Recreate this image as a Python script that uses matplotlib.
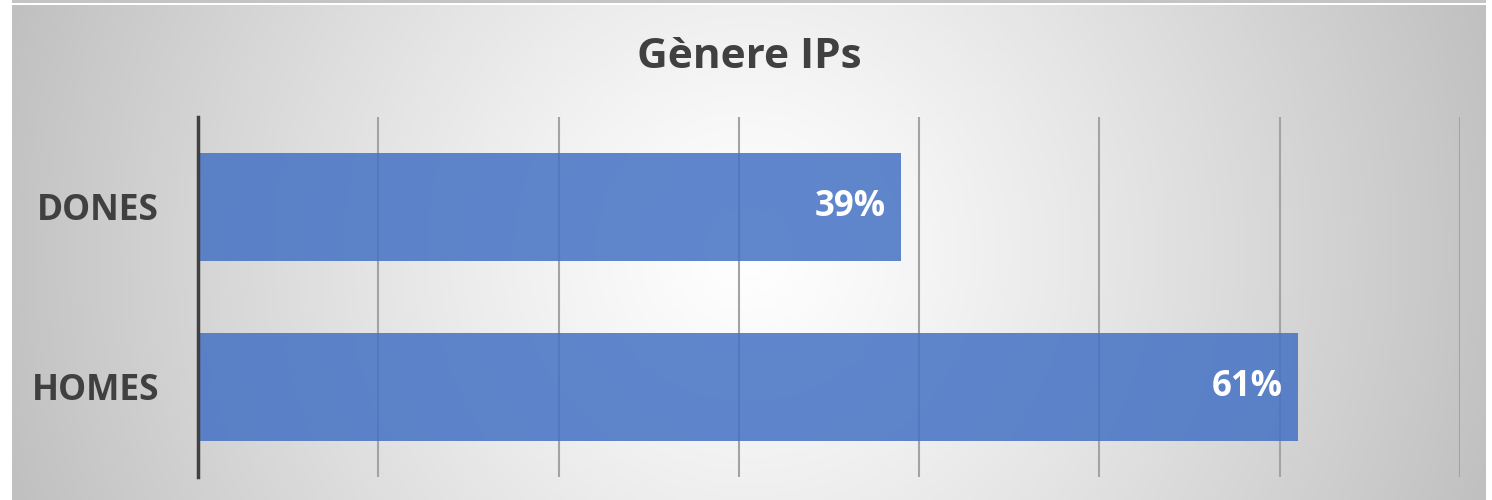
import numpy as np
import matplotlib
matplotlib.use("Agg")
import matplotlib.pyplot as plt
from matplotlib.patches import Rectangle

categories = ["HOMES", "DONES"]
values = [0.61, 0.39]
labels = ["61%", "39%"]
title = "Gènere IPs"

W, H = 1492, 500
fig = plt.figure(figsize=(W / 100, H / 100), dpi=100)
fig.patch.set_facecolor("white")

# background radial gradient
x0, x1, y0, y1 = 12, 1486, 0, 495
bg = fig.add_axes([x0 / W, y0 / H, (x1 - x0) / W, (y1 - y0) / H])
bg.set_axis_off()
nx, ny = 400, 140
xs = np.linspace(x0, x1, nx)
ys = np.linspace(5, 500, ny)
X, Y = np.meshgrid(xs, ys)
cx, cy = 749, 250
d = np.sqrt((X - cx) ** 2 + (Y - cy) ** 2)
t = np.clip(d / np.sqrt((cx - x0) ** 2 + (cy - 5) ** 2), 0, 1)
g = (255 - 63 * t ** 1.2) / 255.0
img = np.dstack([g, g, g])
bg.imshow(img, extent=[0, 1, 0, 1], aspect="auto", origin="upper")
bg.set_xlim(0, 1)
bg.set_ylim(0, 1)
# top strip
fig.patches.append(Rectangle((x0 / W, 497 / H), (x1 - x0) / W, 3 / H,
                             transform=fig.transFigure, facecolor="#C4C4C4",
                             edgecolor="none", zorder=5))

fig.text(749 / W, 1 - 57 / H, title, ha="center", va="center",
         fontsize=30.5, fontweight="bold", color="#404040", family="Open Sans")

ax = fig.add_axes([198 / W, 23 / H, (1460 - 198) / W, (477 - 117) / H])
ax.set_facecolor("none")
ypos = np.arange(len(categories))
ax.barh(ypos, values, height=0.6, color="#4472C4", alpha=0.85, zorder=3)
ax.set_xlim(0, 0.7)
ax.set_ylim(-0.5, 1.5)
ax.set_xticks(np.arange(0, 0.71, 0.1))
ax.set_xticklabels([])
ax.tick_params(axis="x", length=0)
ax.grid(axis="x", color="#A3A3A3", linewidth=1.5, zorder=1)
ax.set_yticks(ypos)
ax.set_yticklabels(categories, fontsize=25.5, fontweight="bold", color="#404040",
                   family="Open Sans")
ax.tick_params(axis="y", length=0, pad=28)
for s in ["top", "right", "bottom"]:
    ax.spines[s].set_visible(False)
ax.spines["left"].set_color("#404040")
ax.spines["left"].set_linewidth(2.5)
ax.spines["left"].set_zorder(4)

for y, v, lab in zip(ypos, values, labels):
    ax.annotate(lab, (v, y), xytext=(-11, 0), textcoords="offset points",
                ha="right", va="center", fontsize=25, fontweight="bold",
                color="white", family="Open Sans", zorder=5)

fig.savefig("out.png", dpi=100)
